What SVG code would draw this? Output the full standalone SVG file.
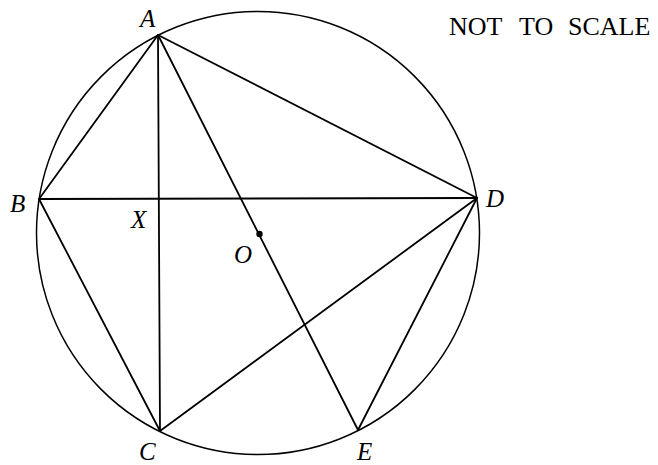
<svg xmlns="http://www.w3.org/2000/svg" width="658" height="465" viewBox="0 0 658 465">
<style>
.ln{stroke:#000;stroke-width:1.8;fill:none;stroke-linecap:round}
.cir{stroke:#000;stroke-width:1.5;fill:none}
.lb{font-family:"Liberation Serif","Times New Roman",serif;font-style:italic;font-size:25px;fill:#000}
.nt{font-family:"Liberation Serif","Times New Roman",serif;font-size:26px;fill:#000}
</style>
<rect width="658" height="465" fill="#fff"/>
<g id="circle"><circle class="cir" cx="258" cy="233" r="221.5"/></g>
<g id="connectors">
<line class="ln" x1="158" y1="35" x2="39" y2="199"/>
<line class="ln" x1="158" y1="35" x2="160" y2="431"/>
<line class="ln" x1="158" y1="35" x2="477" y2="198"/>
<line class="ln" x1="158" y1="35" x2="358" y2="430"/>
<line class="ln" x1="39" y1="199" x2="477" y2="198"/>
<line class="ln" x1="39" y1="199" x2="160" y2="431"/>
<line class="ln" x1="160" y1="431" x2="477" y2="198"/>
<line class="ln" x1="477" y1="198" x2="358" y2="430"/>
</g>
<g id="A"><text class="lb" x="140" y="27">A</text></g>
<g id="B"><text class="lb" x="10" y="212">B</text></g>
<g id="X"><text class="lb" x="131" y="228">X</text></g>
<g id="O"><circle cx="259.5" cy="234" r="3.2" fill="#000"/><text class="lb" x="234" y="263">O</text></g>
<g id="C"><text class="lb" x="139" y="460">C</text></g>
<g id="D"><text class="lb" x="486" y="207">D</text></g>
<g id="E"><text class="lb" x="357" y="460">E</text></g>
<g id="note"><text class="nt" y="35"><tspan x="449">NOT</tspan><tspan x="519">TO</tspan><tspan x="568">SCALE</tspan></text></g>
</svg>
